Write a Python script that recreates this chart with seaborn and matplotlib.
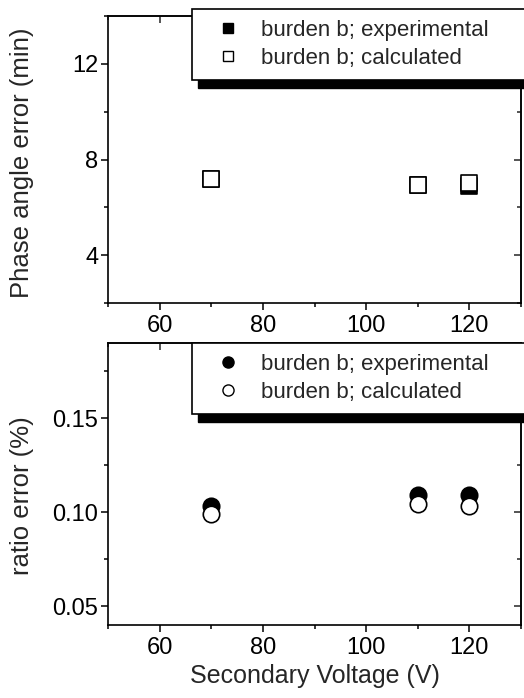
import numpy as np
import pandas as pd
import seaborn as sns
import matplotlib.pyplot as plt
from matplotlib.lines import Line2D
from matplotlib.patches import Rectangle
from matplotlib.ticker import MultipleLocator

# data
voltage = [70, 110, 120]
phase_exp = [7.2, 6.95, 6.9]
phase_calc = [7.2, 6.95, 7.0]
ratio_exp = [0.1035, 0.109, 0.109]
ratio_calc = [0.0990, 0.1045, 0.1035]

x_ticks = [60, 80, 100, 120]
phase_ticks = [4, 8, 12]
ratio_ticks = [0.05, 0.10, 0.15]

sns.set_style('ticks')
plt.rcParams['font.family'] = ['Liberation Sans', 'DejaVu Sans']

W, H = 524, 698
dpi = 100
fig = plt.figure(figsize=(W / dpi, H / dpi), dpi=dpi)

left, right = 108 / W, 521 / W
ax1 = fig.add_axes([left, 1 - 303 / H, right - left, (303 - 16) / H])
ax2 = fig.add_axes([left, 1 - 625 / H, right - left, (625 - 343) / H])

df_phase = pd.DataFrame({'V': voltage * 2,
                         'err': phase_exp + phase_calc,
                         'kind': ['exp'] * 3 + ['calc'] * 3})
df_ratio = pd.DataFrame({'V': voltage * 2,
                         'err': ratio_exp + ratio_calc,
                         'kind': ['exp'] * 3 + ['calc'] * 3})

# experimental first (filled), calculated drawn on top (open)
sns.scatterplot(data=df_phase[df_phase.kind == 'exp'], x='V', y='err', ax=ax1,
                marker='s', s=125, color='black', edgecolor='black', linewidth=1.2, legend=False)
sns.scatterplot(data=df_phase[df_phase.kind == 'calc'], x='V', y='err', ax=ax1,
                marker='s', s=125, color='white', edgecolor='black', linewidth=1.2, legend=False)
sns.scatterplot(data=df_ratio[df_ratio.kind == 'exp'], x='V', y='err', ax=ax2,
                marker='o', s=140, color='black', edgecolor='black', linewidth=1.2, legend=False)
sns.scatterplot(data=df_ratio[df_ratio.kind == 'calc'], x='V', y='err', ax=ax2,
                marker='o', s=140, color='white', edgecolor='black', linewidth=1.2, legend=False)

ax1.set_ylim(2, 14)
ax2.set_ylim(0.04, 0.19)
ax1.set_yticks(phase_ticks)
ax2.set_yticks(ratio_ticks)
ax1.yaxis.set_minor_locator(MultipleLocator(2))
ax2.yaxis.set_minor_locator(MultipleLocator(0.025))
ax2.set_yticklabels([f'{t:.2f}' for t in ratio_ticks])

for ax in (ax1, ax2):
    ax.set_xlim(50, 130)
    ax.set_xticks(x_ticks)
    ax.xaxis.set_minor_locator(MultipleLocator(10))
    for sp in ax.spines.values():
        sp.set_visible(True)
        sp.set_linewidth(1.2)
        sp.set_color('black')
    ax.tick_params(which='both', direction='out', width=1.1, labelsize=17,
                   color='black', labelcolor='black')
    ax.tick_params(axis='x', pad=4)
    ax.tick_params(axis='y', pad=2)
    ax.tick_params(which='major', length=5)
    ax.tick_params(which='minor', length=3)
    # mirrored ticks on top and right, pointing in
    top = ax.secondary_xaxis('top')
    top.set_xticks(x_ticks)
    top.xaxis.set_minor_locator(MultipleLocator(10))
    top.tick_params(which='both', direction='in', labeltop=False, width=1.1)
    top.tick_params(which='major', length=5)
    top.tick_params(which='minor', length=3)
    top.spines['top'].set_linewidth(1.2)
    rgt = ax.secondary_yaxis('right')
    rgt.set_yticks(ax.get_yticks())
    rgt.yaxis.set_minor_locator(ax.yaxis.get_minor_locator())
    rgt.tick_params(which='both', direction='in', labelright=False, width=1.1)
    rgt.tick_params(which='major', length=5)
    rgt.tick_params(which='minor', length=3)
    rgt.spines['right'].set_linewidth(1.2)

ax1.set_xlabel('')
ax2.set_xlabel('Secondary Voltage (V)', fontsize=18)
ax1.set_ylabel('Phase angle error (min)', fontsize=18.5)
ax2.set_ylabel('ratio error (%)', fontsize=18.5)
ax1.yaxis.set_label_coords(-0.178, 0.49)
ax2.yaxis.set_label_coords(-0.178, 0.46)
ax2.xaxis.labelpad = 3


def boxed_legend(handles, labels, top_px):
    leg = fig.legend(handles, labels, loc='upper left',
                     bbox_to_anchor=(192 / W, 1 - top_px / H, 0.72, 0),
                     mode='expand', fontsize=16, frameon=True, fancybox=False,
                     framealpha=1, facecolor='white',
                     borderpad=0.5, labelspacing=0.3, handletextpad=0.4,
                     handlelength=2.2, borderaxespad=0)
    leg.get_frame().set_edgecolor('black')
    leg.get_frame().set_linewidth(1.2)
    leg.set_zorder(5)
    fig.canvas.draw()
    bb = leg.get_window_extent().transformed(fig.transFigure.inverted())
    shadow = Rectangle((bb.x0 + 6 / W, bb.y0 - 8 / H), bb.width, bb.height,
                       transform=fig.transFigure, color='black', zorder=4)
    fig.patches.append(shadow)
    return leg


sq = [Line2D([], [], marker='s', ls='', ms=7, mfc='black', mec='black', mew=1),
      Line2D([], [], marker='s', ls='', ms=7, mfc='white', mec='black', mew=1)]
ci = [Line2D([], [], marker='o', ls='', ms=8, mfc='black', mec='black', mew=1),
      Line2D([], [], marker='o', ls='', ms=8, mfc='white', mec='black', mew=1)]
labels = ['burden b; experimental', 'burden b; calculated']
boxed_legend(sq, labels, 9)
boxed_legend(ci, labels, 343)

fig.savefig('out.png', dpi=dpi)
